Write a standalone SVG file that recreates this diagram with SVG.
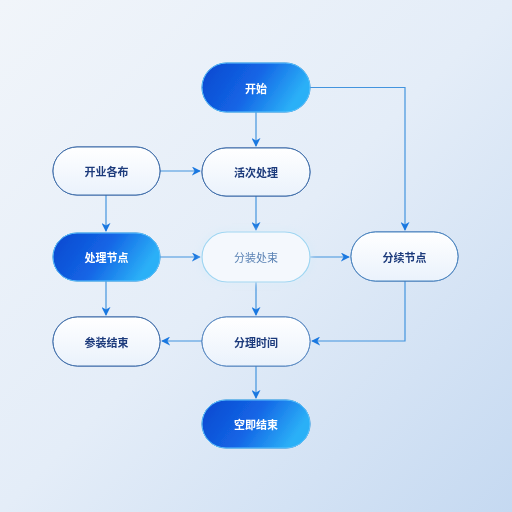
<svg xmlns="http://www.w3.org/2000/svg" width="512" height="512" viewBox="0 0 512 512">
<defs>
<linearGradient id="bg" x1="0" y1="0" x2="1" y2="1">
<stop offset="0" stop-color="#f1f5fa"/>
<stop offset="0.5" stop-color="#e4edf8"/>
<stop offset="1" stop-color="#c5d9f1"/>
</linearGradient>
<linearGradient id="blue" x1="0" y1="0" x2="1" y2="0.3">
<stop offset="0" stop-color="#0a47cf"/>
<stop offset="0.55" stop-color="#1466e6"/>
<stop offset="1" stop-color="#2bb0f7"/>
</linearGradient>
<linearGradient id="white" x1="0" y1="0" x2="0" y2="1">
<stop offset="0" stop-color="#ffffff"/>
<stop offset="1" stop-color="#eaf2fc"/>
</linearGradient>
<filter id="shadow" x="-30%" y="-40%" width="160%" height="190%">
<feGaussianBlur in="SourceAlpha" stdDeviation="5"/>
<feOffset dy="5"/>
<feComponentTransfer><feFuncA type="linear" slope="0.22"/></feComponentTransfer>
<feFlood flood-color="#2a5aa8"/>
<feComposite operator="in" in2="SourceAlpha"/>
<feMerge><feMergeNode/><feMergeNode in="SourceGraphic"/></feMerge>
</filter>
<filter id="glow" x="-30%" y="-40%" width="160%" height="180%">
<feGaussianBlur in="SourceGraphic" stdDeviation="3" result="b"/>
<feMerge><feMergeNode in="b"/><feMergeNode in="SourceGraphic"/></feMerge>
</filter>
<marker id="arr" viewBox="0 0 10 10" refX="9" refY="5" markerWidth="9" markerHeight="9" markerUnits="userSpaceOnUse" orient="auto">
<path d="M0,0 L10,5 L0,10 L3,5 Z" fill="#1a78e0"/>
</marker>
</defs>
<style>
.line{fill:none;stroke:#4394de;stroke-width:1.2}
.bnode{fill:url(#blue);stroke:#5cc4ff;stroke-width:1}
.wnode{fill:url(#white);stroke:#3f6ea8;stroke-width:1}
.gnode{fill:#f4f8fd;stroke:#9fd6f2;stroke-width:1.2}
.t{font-family:"Noto Sans CJK SC","Noto Sans",sans-serif;font-size:11px;font-weight:bold;text-anchor:middle;dominant-baseline:central}
.tw{fill:#ffffff}
.td{fill:#1e3b7c}
.tl{fill:#5a82b4;font-weight:normal}
</style>
<rect width="512" height="512" fill="url(#bg)"/>
<g id="connectors">
<path class="line" d="M310,87.5 H405 V230" marker-end="url(#arr)"/>
<path class="line" d="M256,112 V146" marker-end="url(#arr)"/>
<path class="line" d="M160,171 H200" marker-end="url(#arr)"/>
<path class="line" d="M106,195 V231" marker-end="url(#arr)"/>
<path class="line" d="M256,196 V230" marker-end="url(#arr)"/>
<path class="line" d="M160,257 H200" marker-end="url(#arr)"/>
<path class="line" d="M310,257 H349" marker-end="url(#arr)"/>
<path class="line" d="M106,281 V315" marker-end="url(#arr)"/>
<path class="line" d="M256,282 V315" marker-end="url(#arr)"/>
<path class="line" d="M202,341 H162" marker-end="url(#arr)"/>
<path class="line" d="M405,281 V341 H312" marker-end="url(#arr)"/>
<path class="line" d="M256,366 V398" marker-end="url(#arr)"/>
</g>
<g id="n-start" filter="url(#shadow)">
<rect class="bnode" x="202" y="63" width="108" height="49" rx="24.5"/>
<text class="t tw" x="256" y="87.5">开始</text>
</g>
<g id="n-process1" filter="url(#shadow)">
<rect class="wnode" x="202" y="148" width="108" height="48" rx="24"/>
<text class="t td" x="256" y="172">活次处理</text>
</g>
<g id="n-open" filter="url(#shadow)">
<rect class="wnode" x="53" y="147" width="107" height="48" rx="24"/>
<text class="t td" x="106.5" y="171">开业各布</text>
</g>
<g id="n-handle" filter="url(#shadow)">
<rect class="bnode" x="53" y="233" width="107" height="48" rx="24"/>
<text class="t tw" x="106.5" y="257">处理节点</text>
</g>
<g id="n-split" filter="url(#glow)">
<rect class="gnode" x="202" y="232" width="108" height="50" rx="25"/>
<text class="t tl" x="256" y="257">分装处束</text>
</g>
<g id="n-branch" filter="url(#shadow)">
<rect class="wnode" x="351" y="232" width="107" height="49" rx="24.5" style="stroke:#4a86c0"/>
<text class="t td" x="404.5" y="256.5">分续节点</text>
</g>
<g id="n-end1" filter="url(#shadow)">
<rect class="wnode" x="53" y="317" width="107" height="49" rx="24.5"/>
<text class="t td" x="106.5" y="341.5">参装结束</text>
</g>
<g id="n-time" filter="url(#shadow)">
<rect class="wnode" x="202" y="317" width="108" height="49" rx="24.5" style="stroke:#5a8cc4"/>
<text class="t td" x="256" y="341.5">分理时间</text>
</g>
<g id="n-end2" filter="url(#shadow)">
<rect class="bnode" x="202" y="400" width="108" height="48" rx="24"/>
<text class="t tw" x="256" y="424">空即结束</text>
</g>
</svg>
